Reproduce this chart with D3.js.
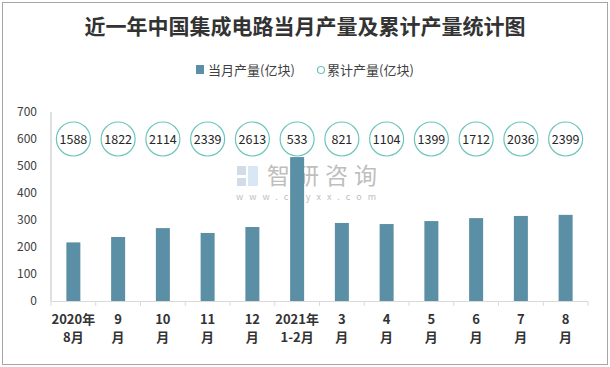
<!DOCTYPE html>
<html><head><meta charset="utf-8">
<script src="https://cdn.jsdelivr.net/npm/d3@7"></script>
<style>body{margin:0;background:#fff}svg{display:block}</style>
</head><body>
<script>
const categories = [["2020年","8月"],["9","月"],["10","月"],["11","月"],["12","月"],["2021年","1-2月"],["3","月"],["4","月"],["5","月"],["6","月"],["7","月"],["8","月"]];
const monthly = [217, 237, 270, 252, 274, 533, 289, 285, 296, 307, 315, 319];
const cumulative = [1588, 1822, 2114, 2339, 2613, 533, 821, 1104, 1399, 1712, 2036, 2399];
const cumulativeLevel = 600;
const yTicks = [0,100,200,300,400,500,600,700];
const title = "近一年中国集成电路当月产量及累计产量统计图";
const legendLabels = ["当月产量(亿块)","累计产量(亿块)"];

const W=610,H=367;
const svg=d3.select("body").append("svg").attr("width",W).attr("height",H);
const font="'Noto Sans CJK SC','Noto Sans',sans-serif";
svg.append("rect").attr("x",2.5).attr("y",2.5).attr("width",W-5).attr("height",H-5).attr("fill","#fff").attr("stroke","#a6a6a6");

svg.append("text").attr("x",305).attr("y",34).attr("text-anchor","middle").attr("font-family",font)
  .attr("font-size",21).attr("font-weight","bold").attr("fill","#333").text(title);

// legend
const lg=svg.append("g").attr("font-family",font).attr("font-size",13).attr("fill","#404040");
lg.append("rect").attr("x",196).attr("y",65).attr("width",8).attr("height",9).attr("fill","#5a8fa6");
lg.append("text").attr("x",208).attr("y",74.5).text(legendLabels[0]);
lg.append("circle").attr("cx",321).attr("cy",70).attr("r",3.5).attr("fill","none").attr("stroke","#6cc5bd").attr("stroke-width",1.2);
lg.append("text").attr("x",327).attr("y",74.5).text(legendLabels[1]);

const x=d3.scaleBand().domain(d3.range(categories.length)).range([51,588]).paddingInner(0).paddingOuter(0);
const y=d3.scaleLinear().domain([0,700]).range([301,112]);

// watermark
const wm=svg.append("g").attr("opacity",0.55);
wm.append("rect").attr("x",237).attr("y",166).attr("width",9).attr("height",9).attr("fill","#aebfd6");
wm.append("rect").attr("x",248).attr("y",166).attr("width",10).attr("height",20).attr("fill","#b8d4ea");
wm.append("rect").attr("x",237).attr("y",178).attr("width",9).attr("height",8).attr("fill","#aebfd6");
wm.append("text").attr("x",267).attr("y",184).attr("font-family",font).attr("font-size",23).attr("fill","#8a8a8a").attr("textLength",110).text("智研咨询");
wm.append("text").attr("x",236).attr("y",200).attr("font-family",font).attr("font-size",9).attr("fill","#8a8a8a").attr("textLength",140).text("www.chyxx.com");

// y labels
svg.append("g").selectAll("text").data(yTicks).join("text")
  .attr("x",37).attr("y",d=>y(d)+4).attr("text-anchor","end").attr("font-family",font).attr("font-size",12).attr("fill","#404040").text(d=>d);
svg.append("line").attr("x1",51).attr("x2",51).attr("y1",112).attr("y2",301).attr("stroke","#bfbfbf");

// bars
const bw=14;
svg.append("g").selectAll("rect").data(monthly).join("rect")
  .attr("x",(d,i)=>x(i)+x.bandwidth()/2-bw/2).attr("width",bw)
  .attr("y",d=>y(d)).attr("height",d=>y(0)-y(d)).attr("fill","#5a8fa6");

// x axis
svg.append("line").attr("x1",51).attr("x2",588).attr("y1",301.5).attr("y2",301.5).attr("stroke","#d9d9d9");
svg.append("g").selectAll("line").data(d3.range(categories.length+1)).join("line")
  .attr("x1",i=>i<categories.length?x(i):x.range()[1]).attr("x2",i=>i<categories.length?x(i):x.range()[1])
  .attr("y1",301).attr("y2",306).attr("stroke","#d9d9d9");
const xl=svg.append("g").selectAll("text").data(categories).join("text")
  .attr("text-anchor","middle").attr("font-family",font).attr("font-size",13).attr("font-weight","bold").attr("fill","#333");
xl.append("tspan").attr("x",(d,i)=>x(i)+x.bandwidth()/2).attr("y",324).text(d=>d[0]);
xl.append("tspan").attr("x",(d,i)=>x(i)+x.bandwidth()/2).attr("y",342).text(d=>d[1]);

// cumulative circles
const cg=svg.append("g").selectAll("g").data(cumulative).join("g")
  .attr("transform",(d,i)=>`translate(${x(i)+x.bandwidth()/2},${y(cumulativeLevel)})`);
cg.append("circle").attr("r",17).attr("fill","#fff").attr("stroke","#6cc5bd").attr("stroke-width",1.2);
cg.append("text").attr("text-anchor","middle").attr("y",4.5).attr("font-family",font).attr("font-size",12.5).attr("fill","#262626").text(d=>d);
</script>
</body></html>
